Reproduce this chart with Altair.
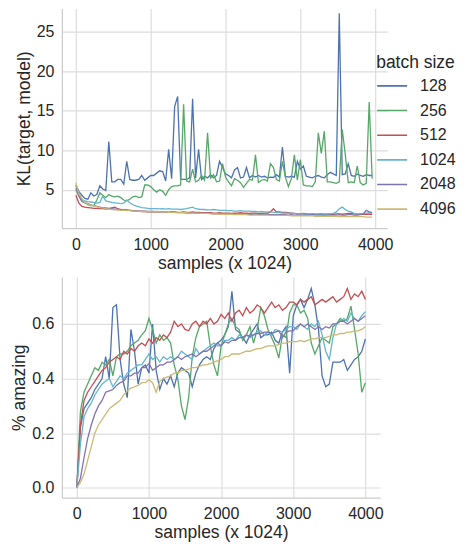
import altair as alt
import pandas as pd

batch_sizes = ["128", "256", "512", "1024", "2048", "4096"]
palette = ["#4C72B0", "#55A868", "#C44E52", "#64B5CD", "#8172B2", "#CCB974"]

# ---------- top panel: KL(target, model), samples every 40 (x 1024) ----------
kl_x = list(range(0, 4000, 40))

kl_128 = [5.6, 4.8, 4.3, 3.9, 3.8, 4.6, 4.2, 4.4, 5.5, 5.1,
          4.9, 11.1, 6.0, 6.0, 6.3, 6.3, 5.7, 8.6, 6.3, 6.2,
          6.2, 6.3, 6.8, 6.2, 6.5, 6.8, 6.8, 7.1, 7.4, 7.3,
          6.1, 10.1, 6.4, 15.5, 16.8, 6.3, 6.3, 6.3, 6.5, 16.5,
          6.5, 10.1, 6.3, 6.7, 6.5, 6.9, 6.5, 6.8, 8.6, 7.8,
          7.0, 6.8, 6.5, 7.5, 7.8, 6.5, 6.6, 7.8, 6.5, 6.8,
          6.6, 6.8, 6.6, 6.7, 6.5, 6.6, 6.55, 6.9, 6.6, 10.4,
          6.7, 6.6, 6.7, 6.6, 8.6, 7.6, 8.0, 6.7, 6.6, 6.5,
          6.7, 6.8, 6.6, 6.5, 6.9, 7.2, 7.0, 6.8, 27.3, 6.9,
          7.0, 8.3, 6.8, 6.7, 7.0, 6.8, 6.7, 6.9, 6.8, 6.8]

kl_256 = [5.5, 4.6, 3.8, 3.4, 3.1, 3.0, 3.0, 3.7, 4.6, 4.3,
          4.0, 4.4, 4.2, 4.1, 4.2, 4.0, 3.7, 3.6, 3.8, 4.1,
          4.2, 4.0, 4.1, 5.6, 5.6, 5.4, 5.0, 4.7, 5.0, 4.8,
          4.3, 5.0, 5.4, 5.5, 5.5, 5.6, 15.8, 6.1, 6.0, 7.6,
          6.0, 6.2, 6.8, 6.2, 12.2, 6.5, 6.9, 6.0, 6.1, 8.3,
          6.6, 6.0, 5.5, 6.4, 6.2, 5.9, 5.3, 5.8, 6.3, 6.2,
          9.4, 5.9, 6.2, 6.3, 6.1, 8.3, 7.8, 6.3, 6.1, 8.6,
          6.6, 5.4, 6.4, 9.4, 6.2, 8.8, 5.6, 5.5, 5.5, 5.4,
          6.0, 12.2, 9.6, 12.4, 6.0, 6.0, 5.9, 5.8, 6.0, 12.6,
          9.5, 5.9, 6.0, 5.9, 8.0, 5.9, 5.6, 5.8, 16.1, 6.4]

kl_512 = [4.3, 3.3, 2.9, 2.8, 2.75, 2.7, 2.65, 2.65, 2.6, 2.6,
          2.55, 2.6, 2.7, 2.8, 2.6, 2.5, 2.45, 2.45, 2.4, 2.35,
          2.3, 2.3, 2.25, 2.25, 2.2, 2.2, 2.2, 2.25, 2.2, 2.2,
          2.2, 2.15, 2.2, 2.2, 2.15, 2.15, 2.2, 2.15, 2.15, 2.2,
          2.15, 2.15, 2.1, 2.1, 2.1, 2.1, 2.05, 2.05, 2.1, 2.05,
          2.05, 2.05, 2.0, 2.05, 2.05, 2.1, 2.05, 2.05, 2.0, 2.05,
          2.05, 2.0, 2.0, 2.05, 2.05, 2.2, 2.6, 2.2, 2.2, 2.15,
          2.15, 2.1, 2.05, 2.0, 1.95, 1.95, 2.0, 1.95, 1.9, 1.95,
          1.9, 1.9, 1.95, 1.9, 1.9, 1.9, 1.9, 1.95, 1.95, 1.9,
          1.95, 2.0, 2.0, 1.95, 1.9, 1.9, 1.9, 1.9, 1.9, 1.9]

kl_1024 = [5.0, 4.2, 3.7, 3.6, 3.5, 3.45, 3.4, 3.3, 3.4, 4.2,
           3.6, 3.5, 3.4, 3.35, 3.3, 3.25, 3.3, 3.7, 3.35, 3.1,
           2.95, 2.85, 2.75, 2.7, 2.65, 2.6, 2.62, 2.6, 2.58, 2.6,
           2.55, 2.6, 2.55, 2.55, 2.55, 2.5, 2.55, 2.6, 2.7, 2.8,
           2.6, 2.55, 2.5, 2.5, 2.45, 2.45, 2.5, 2.45, 2.4, 2.4,
           2.4, 2.35, 2.35, 2.3, 2.3, 2.35, 2.3, 2.3, 2.3, 2.25,
           2.25, 2.2, 2.25, 2.2, 2.2, 2.2, 2.15, 2.1, 2.1, 2.05,
           2.05, 2.05, 2.0, 2.0, 1.95, 1.95, 1.95, 1.9, 1.9, 1.9,
           1.9, 1.9, 1.85, 1.9, 1.9, 1.95, 2.0, 2.2, 2.6, 2.8,
           2.5, 2.3, 2.2, 2.0, 1.9, 1.95, 2.0, 2.0, 2.1, 2.05]

kl_2048 = [5.2, 4.2, 3.5, 3.35, 3.25, 3.1, 3.0, 2.9, 2.8, 2.75,
           2.7, 2.65, 2.6, 2.55, 2.5, 2.45, 2.45, 2.4, 2.4, 2.35,
           2.35, 2.3, 2.3, 2.3, 2.25, 2.25, 2.25, 2.2, 2.2, 2.2,
           2.2, 2.15, 2.2, 2.15, 2.1, 2.1, 2.1, 2.05, 2.05, 2.05,
           2.05, 2.0, 2.0, 2.0, 2.0, 2.0, 1.95, 1.95, 1.95, 1.95,
           1.95, 1.95, 1.95, 1.95, 1.9, 1.95, 1.9, 1.9, 1.9, 1.9,
           1.95, 1.9, 1.9, 1.9, 1.9, 1.85, 1.85, 1.85, 1.85, 1.85,
           1.85, 1.8, 1.85, 1.8, 1.8, 1.8, 1.8, 1.8, 1.8, 1.85,
           1.8, 1.8, 1.8, 1.75, 1.8, 1.8, 1.8, 1.8, 1.85, 1.8,
           1.8, 1.85, 1.85, 1.8, 1.8, 1.85, 1.9, 2.4, 2.2, 2.1]

kl_4096 = [5.9, 4.5, 3.9, 3.4, 3.2, 3.05, 2.95, 2.85, 2.75, 2.7,
           2.6, 2.55, 2.5, 2.45, 2.45, 2.4, 2.4, 2.35, 2.35, 2.3,
           2.3, 2.3, 2.25, 2.25, 2.25, 2.2, 2.2, 2.25, 2.2, 2.2,
           2.2, 2.15, 2.15, 2.15, 2.1, 2.1, 2.1, 2.1, 2.05, 2.05,
           2.05, 2.05, 2.0, 2.0, 2.0, 1.95, 1.95, 1.95, 1.9, 1.9,
           1.9, 1.9, 1.9, 1.85, 1.85, 1.85, 1.85, 1.85, 1.8, 1.8,
           1.8, 1.8, 1.8, 1.8, 1.8, 1.75, 1.75, 1.75, 1.75, 1.75,
           1.75, 1.75, 1.7, 1.7, 1.7, 1.7, 1.7, 1.7, 1.7, 1.7,
           1.65, 1.65, 1.65, 1.65, 1.65, 1.65, 1.65, 1.65, 1.6, 1.6,
           1.6, 1.6, 1.6, 1.6, 1.6, 1.6, 1.6, 1.55, 1.55, 1.55]

# ---------- bottom panel: % amazing, samples every 50 (x 1024) ----------
amz_x = list(range(0, 4001, 50))

amz_128 = [0.0, 0.22, 0.29, 0.31, 0.33, 0.36, 0.38, 0.40, 0.48, 0.40,
           0.66, 0.67, 0.47, 0.38, 0.33, 0.58, 0.50, 0.38, 0.44, 0.45,
           0.42, 0.60, 0.43, 0.36, 0.40, 0.38, 0.41, 0.37, 0.42, 0.44,
           0.43, 0.42, 0.37, 0.42, 0.45, 0.47, 0.48, 0.47, 0.51, 0.53,
           0.54, 0.56, 0.59, 0.72, 0.58, 0.57, 0.55, 0.53, 0.56, 0.58,
           0.60, 0.55, 0.56, 0.56, 0.57, 0.54, 0.53, 0.57, 0.59, 0.42,
           0.63, 0.67, 0.69, 0.66, 0.69, 0.73, 0.67, 0.58, 0.41, 0.37,
           0.38, 0.46, 0.46, 0.46, 0.47, 0.43, 0.45, 0.47, 0.48, 0.50,
           0.545]

amz_256 = [0.0, 0.28, 0.35, 0.38, 0.41, 0.44, 0.43, 0.46, 0.45, 0.47,
           0.41, 0.48, 0.49, 0.49, 0.50, 0.52, 0.53, 0.54, 0.56, 0.575,
           0.62, 0.58, 0.53, 0.56, 0.54, 0.55, 0.53, 0.45, 0.40, 0.30,
           0.25, 0.33, 0.48, 0.55, 0.59, 0.60, 0.61, 0.52, 0.45, 0.41,
           0.52, 0.56, 0.60, 0.62, 0.59, 0.58, 0.54, 0.56, 0.59, 0.53,
           0.58, 0.66, 0.63, 0.58, 0.55, 0.52, 0.475, 0.56, 0.55, 0.64,
           0.67, 0.67, 0.64, 0.65, 0.62, 0.53, 0.49, 0.52, 0.55, 0.54,
           0.53, 0.59, 0.60, 0.62, 0.61, 0.62, 0.665, 0.58, 0.49, 0.35,
           0.385]

amz_512 = [0.0, 0.23, 0.32, 0.35, 0.37, 0.39, 0.41, 0.43, 0.44, 0.46,
           0.47, 0.48, 0.47, 0.50, 0.49, 0.51, 0.50, 0.52, 0.53, 0.52,
           0.545, 0.53, 0.55, 0.54, 0.56, 0.55, 0.57, 0.61, 0.59, 0.60,
           0.58, 0.575, 0.60, 0.61, 0.59, 0.61, 0.60, 0.62, 0.60, 0.61,
           0.635, 0.62, 0.64, 0.61, 0.64, 0.65, 0.63, 0.66, 0.64, 0.65,
           0.67, 0.66, 0.64, 0.66, 0.68, 0.66, 0.67, 0.65, 0.66, 0.68,
           0.68, 0.67, 0.69, 0.68, 0.69, 0.70, 0.67, 0.68, 0.69, 0.68,
           0.69, 0.70, 0.68, 0.69, 0.70, 0.73, 0.69, 0.71, 0.70, 0.72,
           0.69]

amz_1024 = [0.0, 0.16, 0.26, 0.29, 0.31, 0.34, 0.36, 0.38, 0.39, 0.40,
            0.37, 0.39, 0.41, 0.40, 0.42, 0.43, 0.44, 0.45, 0.45, 0.47,
            0.49, 0.47, 0.48, 0.46, 0.48, 0.47, 0.48, 0.47, 0.48, 0.50,
            0.49, 0.48, 0.47, 0.51, 0.49, 0.50, 0.51, 0.52, 0.53, 0.52,
            0.52, 0.54, 0.54, 0.55, 0.54, 0.56, 0.55, 0.56, 0.55, 0.56,
            0.57, 0.575, 0.56, 0.57, 0.56, 0.58, 0.575, 0.57, 0.58, 0.59,
            0.59, 0.58, 0.60, 0.59, 0.58, 0.60, 0.59, 0.61, 0.56, 0.50,
            0.47, 0.55, 0.60, 0.61, 0.62, 0.61, 0.64, 0.62, 0.61, 0.63,
            0.645]

amz_2048 = [0.0, 0.035, 0.11, 0.18, 0.23, 0.27, 0.30, 0.32, 0.35, 0.355,
            0.36, 0.375, 0.385, 0.39, 0.41, 0.41, 0.42, 0.42, 0.44, 0.44,
            0.455, 0.43, 0.44, 0.45, 0.45, 0.46, 0.46, 0.47, 0.48, 0.47,
            0.48, 0.485, 0.49, 0.48, 0.49, 0.50, 0.50, 0.51, 0.52, 0.53,
            0.52, 0.535, 0.53, 0.54, 0.54, 0.55, 0.55, 0.56, 0.555, 0.56,
            0.565, 0.565, 0.57, 0.57, 0.565, 0.57, 0.575, 0.55, 0.57, 0.575,
            0.575, 0.59, 0.60, 0.59, 0.60, 0.59, 0.58, 0.59, 0.58, 0.59,
            0.585, 0.60, 0.60, 0.61, 0.61, 0.60, 0.61, 0.62, 0.61, 0.62,
            0.63]

amz_4096 = [0.0, 0.02, 0.05, 0.10, 0.15, 0.20, 0.23, 0.25, 0.27, 0.29,
            0.30, 0.31, 0.32, 0.34, 0.355, 0.365, 0.37, 0.375, 0.385, 0.385,
            0.395, 0.385, 0.35, 0.39, 0.40, 0.405, 0.41, 0.42, 0.42, 0.43,
            0.43, 0.435, 0.44, 0.44, 0.445, 0.45, 0.45, 0.455, 0.46, 0.465,
            0.47, 0.48, 0.48, 0.49, 0.49, 0.49, 0.495, 0.50, 0.50, 0.505,
            0.51, 0.51, 0.515, 0.52, 0.52, 0.52, 0.525, 0.53, 0.53, 0.535,
            0.535, 0.535, 0.54, 0.535, 0.54, 0.545, 0.545, 0.55, 0.55, 0.55,
            0.555, 0.56, 0.56, 0.565, 0.565, 0.57, 0.57, 0.575, 0.575, 0.58,
            0.59]


def long_frame(xs, series):
    rows = []
    for name, vals in zip(batch_sizes, series):
        for xv, yv in zip(xs, vals):
            rows.append({"x": xv, "v": yv, "batch": name})
    return pd.DataFrame(rows)


df_kl = long_frame(kl_x, [kl_128, kl_256, kl_512, kl_1024, kl_2048, kl_4096])
df_amz = long_frame(amz_x, [amz_128, amz_256, amz_512, amz_1024, amz_2048, amz_4096])

color_scale = alt.Scale(domain=batch_sizes, range=palette)
x_ticks = [0, 1000, 2000, 3000, 4000]

top = alt.Chart(df_kl).mark_line(strokeWidth=1.3, clip=True).encode(
    x=alt.X("x:Q", scale=alt.Scale(domain=[-187, 4160], nice=False, zero=False),
            axis=alt.Axis(values=x_ticks, format="d", title="samples (x 1024)")),
    y=alt.Y("v:Q", scale=alt.Scale(domain=[0.15, 27.9], nice=False, zero=False),
            axis=alt.Axis(values=[5, 10, 15, 20, 25], title="KL(target, model)")),
    color=alt.Color("batch:N", scale=color_scale, sort=batch_sizes,
                    legend=alt.Legend(title="batch size", orient="none",
                                      legendX=315, legendY=46,
                                      symbolType="stroke", symbolSize=900,
                                      symbolStrokeWidth=1.6, clipHeight=20,
                                      rowPadding=4.7, labelOffset=12, padding=0,
                                      titlePadding=4)),
).properties(width=326, height=220)

bottom = alt.Chart(df_amz).mark_line(strokeWidth=1.3, clip=True).encode(
    x=alt.X("x:Q", scale=alt.Scale(domain=[-207, 4205], nice=False, zero=False),
            axis=alt.Axis(values=x_ticks, format="d", title="samples (x 1024)")),
    y=alt.Y("v:Q", scale=alt.Scale(domain=[-0.0356, 0.772], nice=False, zero=False),
            axis=alt.Axis(values=[0.0, 0.2, 0.4, 0.6], format=".1f", title="% amazing")),
    color=alt.Color("batch:N", scale=color_scale, sort=batch_sizes, legend=None),
).properties(width=319, height=221)

chart = alt.concat(top, bottom, columns=1, spacing=5, align="none").resolve_scale(
    color="independent"
).resolve_legend(color="independent").configure(
    padding={"left": 2, "top": 0, "right": 0, "bottom": 0},
    font="Liberation Sans",
).configure_view(stroke=None).configure_axis(
    domainColor="#cccccc", domainWidth=1.25,
    gridColor="#dddddd", gridWidth=1.2,
    ticks=False, tickSize=0,
    labelFontSize=16, labelColor="#262626",
    titleFontSize=17.5, titleFontWeight="normal", titleColor="#262626",
).configure_axisX(
    labelPadding=8, titlePadding=2,
).configure_axisY(
    labelPadding=8, titlePadding=3, minExtent=0,
).configure_legend(
    titleFontSize=17.5, titleFontWeight="normal", titleColor="#262626",
    labelFontSize=16, labelColor="#262626",
)

chart.save("out.html", embed_options={"renderer": "svg", "actions": False})
